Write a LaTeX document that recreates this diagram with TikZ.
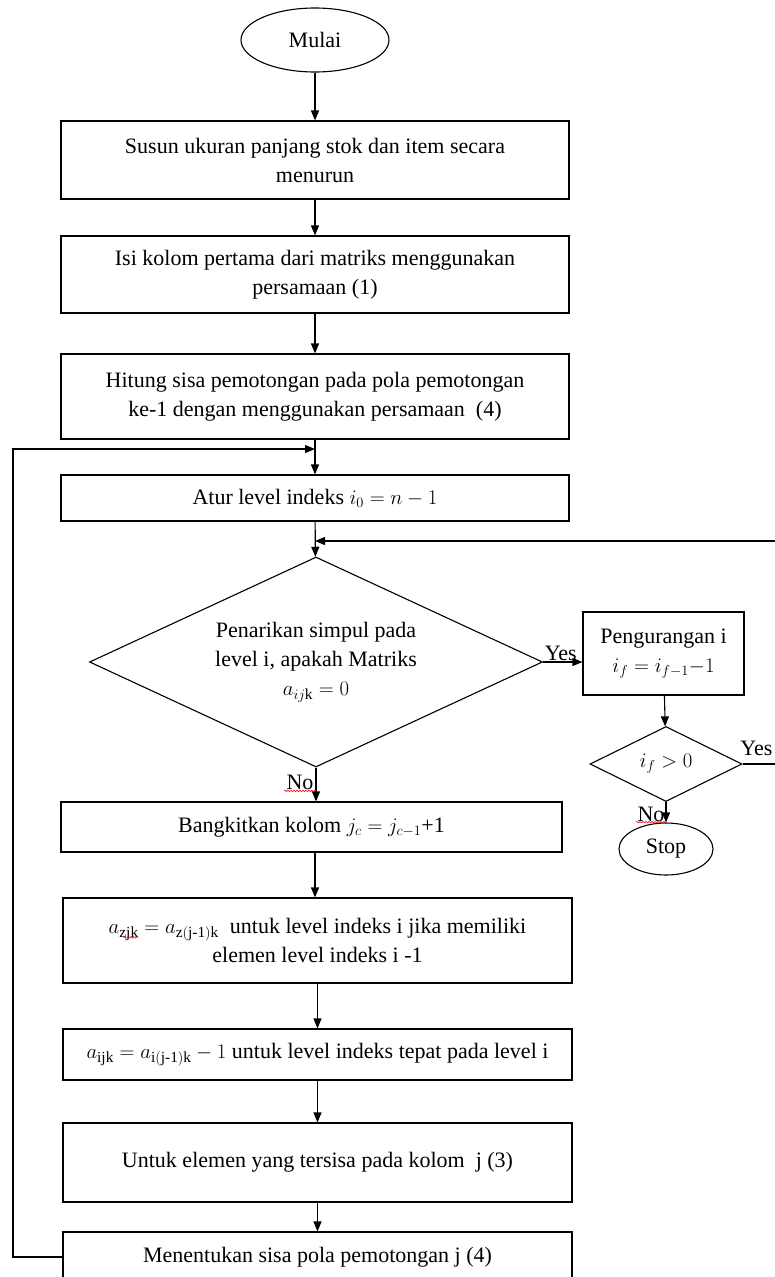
\documentclass[tikz,border=0pt]{standalone}
\usepackage{amsmath}
\usepackage{fontspec}
\setmainfont{Liberation Serif}
\usetikzlibrary{shapes.geometric,arrows.meta,decorations.pathmorphing}

\begin{document}
\begin{tikzpicture}[x=1pt, y=-1pt, line width=1.1pt,
  teks/.style={font=\fontsize{22}{29}\selectfont},
  kotak/.style={teks, draw, rectangle, align=center, minimum width=508pt, inner sep=0pt},
  ujung/.style={teks, draw, ellipse, inner sep=0pt},
  putusan/.style={teks, draw, diamond, align=center, inner sep=0pt},
  panah/.style={-{Triangle[length=10pt,width=8pt]}},
  coret/.style={red, line width=0.6pt, decorate,
    decoration={snake, amplitude=0.7pt, segment length=3pt}},
  ]
  \useasboundingbox (0,0) rectangle (775,1277);
  \node[ujung, minimum width=148pt, minimum height=64pt] (mulai) at (315,40) {Mulai};
  \node[kotak, minimum height=78pt] (susun) at (315,160)
    {Susun ukuran panjang stok dan item secara\\ menurun};
  \node[kotak, minimum height=77pt] (isi) at (315,274.5)
    {Isi kolom pertama dari matriks menggunakan\\ persamaan (1)};
  \node[kotak, minimum height=85pt] (hitung) at (315,396.5)
    {Hitung sisa pemotongan pada pola pemotongan\\ ke-1 dengan menggunakan persamaan~~(4)};
  \node[kotak, minimum height=46pt] (atur) at (315,498)
    {Atur level indeks $i_0 = n - 1$};
  \node[putusan, minimum width=453pt, minimum height=210pt, aspect=2.16] (tarik) at (316,662)
    {Penarikan simpul pada\\ level i, apakah Matriks\\ $a_{ij\mathrm{k}} = 0$};
  \node[kotak, minimum width=161pt, minimum height=83pt] (kurang) at (663.5,653.5)
    {Pengurangan i\\ $i_f = i_{f-1} {-}1$};
  \node[putusan, minimum width=152pt, minimum height=75pt, aspect=2] (cek) at (666,764)
    {$i_f > 0$};
  \node[ujung, minimum width=94pt, minimum height=52pt] (stop) at (666,849) {Stop};
  \node[kotak, minimum width=501pt, minimum height=50pt] (bangkit) at (311.5,827)
    {Bangkitkan kolom $j_c = j_{c-1}$+1};
  \node[kotak, minimum width=509pt, minimum height=85pt] (azjk) at (317.5,940.5)
    {$a_{\mathrm{zjk}} = a_{\mathrm{z(j\text{-}1)k}}$~~untuk level indeks i jika memiliki\\ elemen~level indeks i -1};
  \node[kotak, minimum width=509pt, minimum height=51pt] (aijk) at (317.5,1054.5)
    {$a_{\mathrm{ijk}} = a_{\mathrm{i(j\text{-}1)k}} - 1$ untuk level indeks tepat pada level i};
  \node[kotak, minimum width=509pt, minimum height=79pt] (elemen) at (317.5,1162.5)
    {Untuk elemen~yang tersisa pada kolom~~j (3)};
  \node[kotak, minimum width=509pt, minimum height=50pt] (tentukan) at (317.5,1257)
    {Menentukan sisa pola pemotongan j (4)};
  % loop corners
  \coordinate (kiri) at (13,449);
  \coordinate (kanan) at (790,541);

  \draw[panah] (mulai) -- (susun);
  \draw[panah] (susun) -- (isi);
  \draw[panah] (isi) -- (hitung);
  \draw[panah] (hitung) -- (atur);
  \draw[panah] (atur) -- (tarik);
  \draw[panah] (tarik.east) -- (tarik.east -| kurang.west)
    node[teks, pos=0.45, above, inner sep=1pt] {Yes};
  \draw[panah] (kurang) -- (cek);
  \draw[panah] (cek) -- (stop);
  \draw[panah] (tarik.south) -- (tarik.south |- bangkit.north)
    node[teks, pos=0.45, left, inner sep=2pt] (no1) {No};
  \draw[panah] (bangkit.south -| atur.south) -- (azjk.north -| atur.south);
  \draw[panah] (azjk) -- (aijk);
  \draw[panah] (aijk) -- (elemen);
  \draw[panah] (elemen) -- (tentukan);
  \node[teks, left, inner sep=1pt] (no2) at ([yshift=-12pt]cek.south) {No};
  % back to the top
  \draw[panah] (tentukan.west) -| (kiri) -- (kiri -| hitung.south);
  \draw[panah] (cek.east) -| (kanan) -- (kanan -| atur.south);
  \node[teks, anchor=south east, inner sep=1pt] at (774,757) {Yes};
  % \draw[coret] (no1.south west) -- (no1.south east);
  \draw[coret] ([yshift=-1pt]no1.base west) -- ([yshift=-1pt]no1.base east);
  \draw[coret] ([yshift=-1pt]no2.base west) -- ([yshift=-1pt]no2.base east);
  \draw[coret] ([xshift=-194pt,yshift=3pt]azjk.center) -- ([xshift=-180pt,yshift=3pt]azjk.center);
\end{tikzpicture}
\end{document}
